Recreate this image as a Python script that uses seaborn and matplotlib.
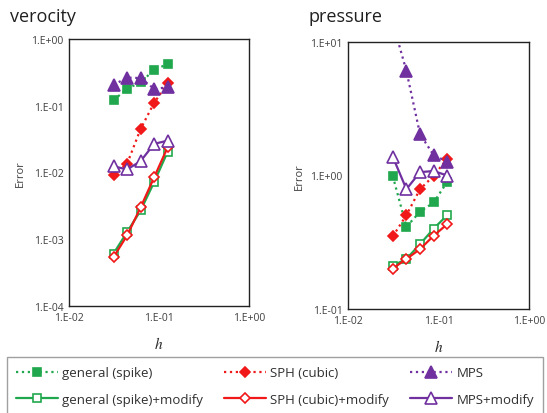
import numpy as np
import pandas as pd
import matplotlib.pyplot as plt
import seaborn as sns
from matplotlib.ticker import LogLocator, FuncFormatter, NullLocator

# grid spacing
h = [0.03125, 0.0442, 0.0625, 0.0884, 0.125]

series = ["general (spike)", "general (spike)+modify",
          "SPH (cubic)", "SPH (cubic)+modify",
          "MPS", "MPS+modify"]

# velocity error
vel_general = [0.121, 0.179, 0.225, 0.344, 0.423]
vel_general_mod = [0.00061, 0.00128, 0.0027, 0.0072, 0.0206]
vel_sph = [0.0092, 0.0135, 0.045, 0.111, 0.217]
vel_sph_mod = [0.00054, 0.00114, 0.0030, 0.0085, 0.024]
vel_mps = [0.205, 0.264, 0.26, 0.179, 0.189]
vel_mps_mod = [0.0124, 0.0111, 0.0148, 0.0269, 0.030]

# pressure error
pre_general = [0.99, 0.413, 0.535, 0.628, 0.897]
pre_general_mod = [0.211, 0.237, 0.306, 0.40, 0.505]
pre_sph = [0.35, 0.505, 0.79, 0.994, 1.34]
pre_sph_mod = [0.201, 0.237, 0.281, 0.354, 0.432]
pre_mps = [14.0, 6.07, 2.04, 1.42, 1.27]
pre_mps_mod = [1.38, 0.79, 1.06, 1.08, 1.0]

GREEN = "#21a84e"
RED = "#f01818"
PURPLE = "#7030a0"

styles = {
    "general (spike)": dict(color=GREEN, ls=":", marker="s", mfc=GREEN),
    "general (spike)+modify": dict(color=GREEN, ls="-", marker="s", mfc="white"),
    "SPH (cubic)": dict(color=RED, ls=":", marker="D", mfc=RED),
    "SPH (cubic)+modify": dict(color=RED, ls="-", marker="D", mfc="white"),
    "MPS": dict(color=PURPLE, ls=":", marker="^", mfc=PURPLE),
    "MPS+modify": dict(color=PURPLE, ls="-", marker="^", mfc="white"),
}
msize = {"s": 6, "D": 5.5, "^": 8}

vel = dict(zip(series, [vel_general, vel_general_mod, vel_sph, vel_sph_mod, vel_mps, vel_mps_mod]))
pre = dict(zip(series, [pre_general, pre_general_mod, pre_sph, pre_sph_mod, pre_mps, pre_mps_mod]))

sns.set_style("white")
plt.rcParams["font.family"] = ["Open Sans", "DejaVu Sans"]
plt.rcParams["mathtext.fontset"] = "stix"

fig = plt.figure(figsize=(5.47, 4.14), dpi=100)
W, H = 547, 414
ax1 = fig.add_axes([69 / W, 1 - 307 / H, 180 / W, 267 / H])
ax2 = fig.add_axes([348 / W, 1 - 310 / H, 181 / W, 267 / H])


def fmt(v, pos):
    e = int(np.round(np.log10(v)))
    return "1.E%+03d" % e


def draw(ax, data, ylo, yhi, title, tx):
    for name in series:
        st = styles[name]
        df = pd.DataFrame({"h": h, "err": data[name]})
        sns.lineplot(data=df, x="h", y="err", ax=ax, color=st["color"],
                     linestyle=st["ls"], linewidth=1.6, marker=st["marker"],
                     markersize=msize[st["marker"]], markerfacecolor=st["mfc"],
                     markeredgecolor=st["color"], markeredgewidth=1.2,
                     label=name, legend=False, clip_on=True)
    ax.set_xscale("log")
    ax.set_yscale("log")
    ax.set_xlim(1e-2, 1e0)
    ax.set_ylim(ylo, yhi)
    ax.xaxis.set_major_locator(LogLocator(base=10, numticks=10))
    ax.yaxis.set_major_locator(LogLocator(base=10, numticks=10))
    ax.xaxis.set_minor_locator(NullLocator())
    ax.yaxis.set_minor_locator(NullLocator())
    ax.xaxis.set_major_formatter(FuncFormatter(fmt))
    ax.yaxis.set_major_formatter(FuncFormatter(fmt))
    ax.tick_params(length=0, labelsize=7.5, pad=4, colors="#404040")
    for s in ax.spines.values():
        s.set_color("#222222")
        s.set_linewidth(1.0)
    ax.set_xlabel("$h$", fontsize=11, labelpad=10)
    ax.set_ylabel("Error", fontsize=8, color="#404040", labelpad=4)
    fig.text(tx, 1 - 17 / H, title, fontsize=13, va="center", ha="left", color="#202020")


draw(ax1, vel, 1e-4, 1e0, "verocity", 10 / W)
draw(ax2, pre, 1e-1, 1e1, "pressure", 308 / W)

handles, labels = ax1.get_legend_handles_labels()
leg_top = 1 - 358 / H
leg = fig.legend(handles, labels, loc="upper left", ncol=3,
                 bbox_to_anchor=(7 / W, leg_top - 0.2, 536 / W, 0.2),
                 frameon=True, fontsize=9.5, mode="expand",
                 handlelength=3.2, columnspacing=1.0, handletextpad=0.3,
                 borderpad=0.7, labelspacing=1.05, fancybox=False,
                 edgecolor="#888888", borderaxespad=0)
leg.get_frame().set_linewidth(1.0)
for t in leg.get_texts():
    t.set_color("#303030")

fig.savefig("out.png", dpi=100)
